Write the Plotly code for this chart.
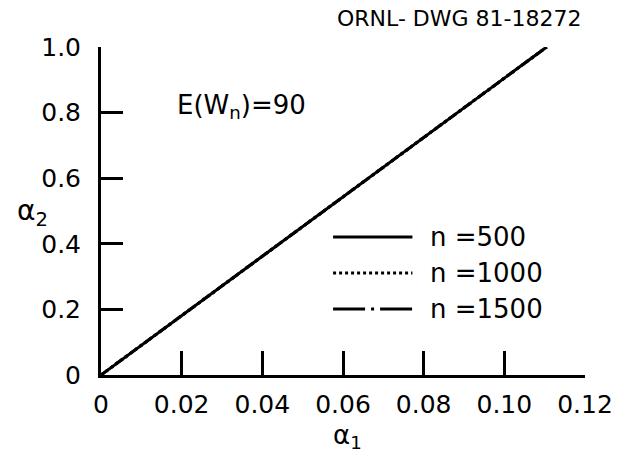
import plotly.graph_objects as go

# data
alpha1 = [0.0, 0.1105]
alpha2_n500 = [0.0, 1.0]
alpha2_n1000 = [0.0, 1.0]
alpha2_n1500 = [0.0, 1.0]
series_names = ["n =500", "n =1000", "n =1500"]
x_tickvals = [0, 0.02, 0.04, 0.06, 0.08, 0.10, 0.12]
x_ticktext = ["0", "0.02", "0.04", "0.06", "0.08", "0.10", "0.12"]
y_tickvals = [0, 0.2, 0.4, 0.6, 0.8, 1.0]
y_ticktext = ["0", "0.2", "0.4", "0.6", "0.8", "1.0"]

FONT = "DejaVu Sans"
fig = go.Figure()
fig.add_trace(go.Scatter(x=alpha1, y=alpha2_n1500, mode="lines", name=series_names[2],
                         line=dict(color="black", width=3, dash="dashdot"), showlegend=False))
fig.add_trace(go.Scatter(x=alpha1, y=alpha2_n1000, mode="lines", name=series_names[1],
                         line=dict(color="black", width=3, dash="dot"), showlegend=False))
fig.add_trace(go.Scatter(x=alpha1, y=alpha2_n500, mode="lines", name=series_names[0],
                         line=dict(color="black", width=3, dash="solid"), showlegend=False))

fig.update_xaxes(range=[0, 0.12], tickvals=x_tickvals, ticktext=x_ticktext,
                 showline=True, linecolor="black", linewidth=3, ticks="inside",
                 ticklen=24, tickwidth=3, tickcolor="black", showgrid=False, zeroline=False,
                 ticklabelstandoff=5,
                 tickfont=dict(family=FONT, size=25, color="black"))
fig.update_yaxes(range=[0, 1.0], tickvals=y_tickvals, ticktext=y_ticktext,
                 showline=True, linecolor="black", linewidth=3, ticks="inside",
                 ticklen=22, tickwidth=3, tickcolor="black", showgrid=False, zeroline=False,
                 ticklabelstandoff=12,
                 tickfont=dict(family=FONT, size=25, color="black"))


def px(xp):
    return (xp - 101) / 488


def py(yp):
    return (452 - 77 - yp) / 328


# legend drawn manually
dashes = ["solid", "dot", "32px,6px,3px,6px"]
legend_y = [237, 273, 309]
shapes = []
annotations = []
for name, dash, yp in zip(series_names, dashes, legend_y):
    shapes.append(dict(type="line", xref="paper", yref="paper",
                       x0=px(335), x1=px(415), y0=py(yp), y1=py(yp),
                       line=dict(color="black", width=3, dash=dash)))
    annotations.append(dict(x=px(431), y=py(yp), xref="paper", yref="paper",
                            text=name, showarrow=False, xanchor="left", yanchor="middle",
                            font=dict(family=FONT, size=26, color="black")))

annotations += [
    dict(x=px(176), y=py(106), xref="paper", yref="paper", text="E(W<sub>n</sub>)=90",
         showarrow=False, xanchor="left", yanchor="middle",
         font=dict(family=FONT, size=26, color="black")),
    dict(x=px(588), y=py(19), xref="paper", yref="paper", text="ORNL- DWG 81-18272",
         showarrow=False, xanchor="right", yanchor="middle",
         font=dict(family=FONT, size=22, color="black")),
    dict(x=px(32), y=py(212), xref="paper", yref="paper", text="α<sub>2</sub>",
         showarrow=False, xanchor="center", yanchor="middle",
         font=dict(family=FONT, size=28, color="black")),
    dict(x=px(350), y=py(436), xref="paper", yref="paper", text="α<sub>1</sub>",
         showarrow=False, xanchor="center", yanchor="middle",
         font=dict(family=FONT, size=26, color="black")),
]

fig.update_layout(width=625, height=452, margin=dict(l=101, r=36, t=47, b=77),
                  plot_bgcolor="white", paper_bgcolor="white",
                  shapes=shapes, annotations=annotations, showlegend=False)
fig.write_html("out.html")
